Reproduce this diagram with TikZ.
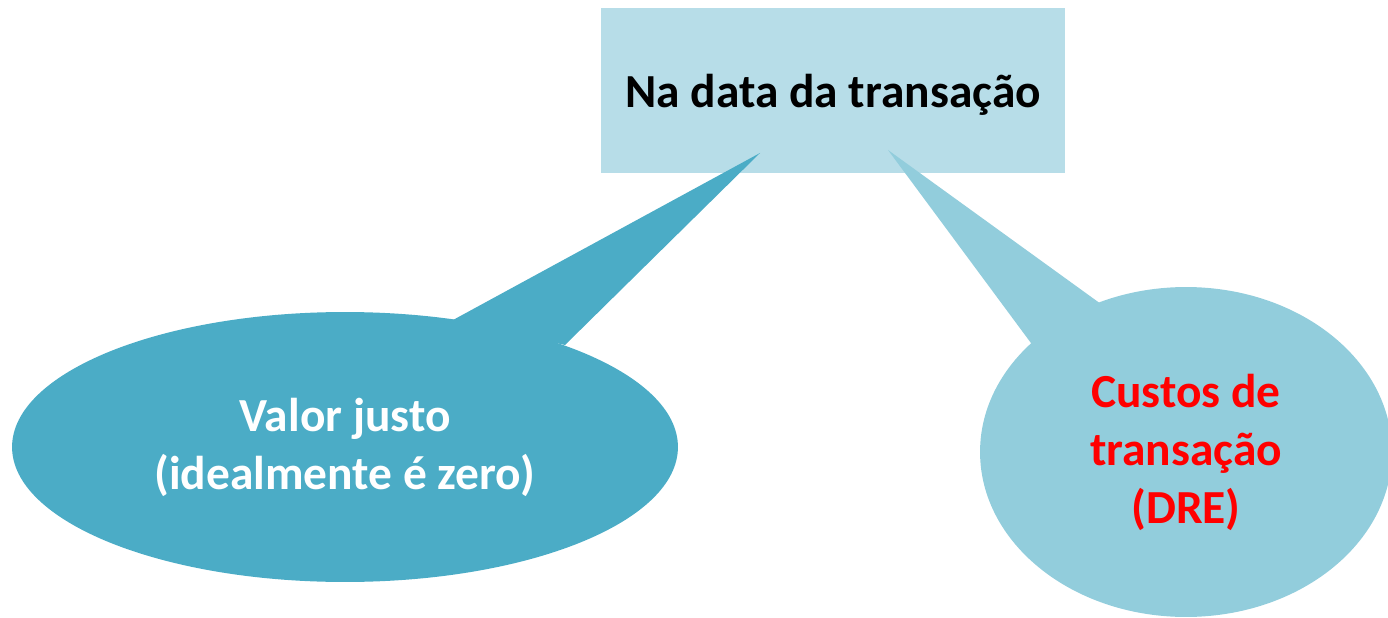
\documentclass[tikz,border=0pt]{standalone}
\usepackage{fontspec}
\setmainfont{Carlito}
\usetikzlibrary{shapes.geometric}
\definecolor{boxblue}{HTML}{B7DDE8}
\definecolor{darkcall}{HTML}{4BACC6}
\definecolor{lightcall}{HTML}{92CDDC}
\tikzset{
  balloon/.style={ellipse, inner sep=0pt, align=center, font=\fontsize{27}{33}\selectfont\bfseries},
}
\begin{document}
\begin{tikzpicture}[x=0.02cm, y=-0.02cm]
  \useasboundingbox (0,0) rectangle (1388,618);
  \node [fill=boxblue, minimum width=9.28cm, minimum height=3.3cm, text depth=0pt, font=\fontsize{27}{33}\selectfont\bfseries] (date) at (833,90.5) {Na data da transação};
  % pontas dos baloes
  \coordinate (tipL) at (760,153);
  \coordinate (tipR) at (888,150);
  \fill [darkcall] (453,320) -- (tipL) -- (565,345) -- cycle;
  \fill [lightcall] (1045,362) -- (tipR) -- (1130,325) -- cycle;
  \node [balloon, fill=darkcall, text=white, minimum width=13.32cm, minimum height=5.4cm] (fair) at (345,447) {Valor justo\\(idealmente é zero)};
  \node [balloon, fill=lightcall, text=red, minimum width=8.24cm, minimum height=6.6cm] (cost) at (1186,452) {Custos de\\transação\\(DRE)};
\end{tikzpicture}
\end{document}
